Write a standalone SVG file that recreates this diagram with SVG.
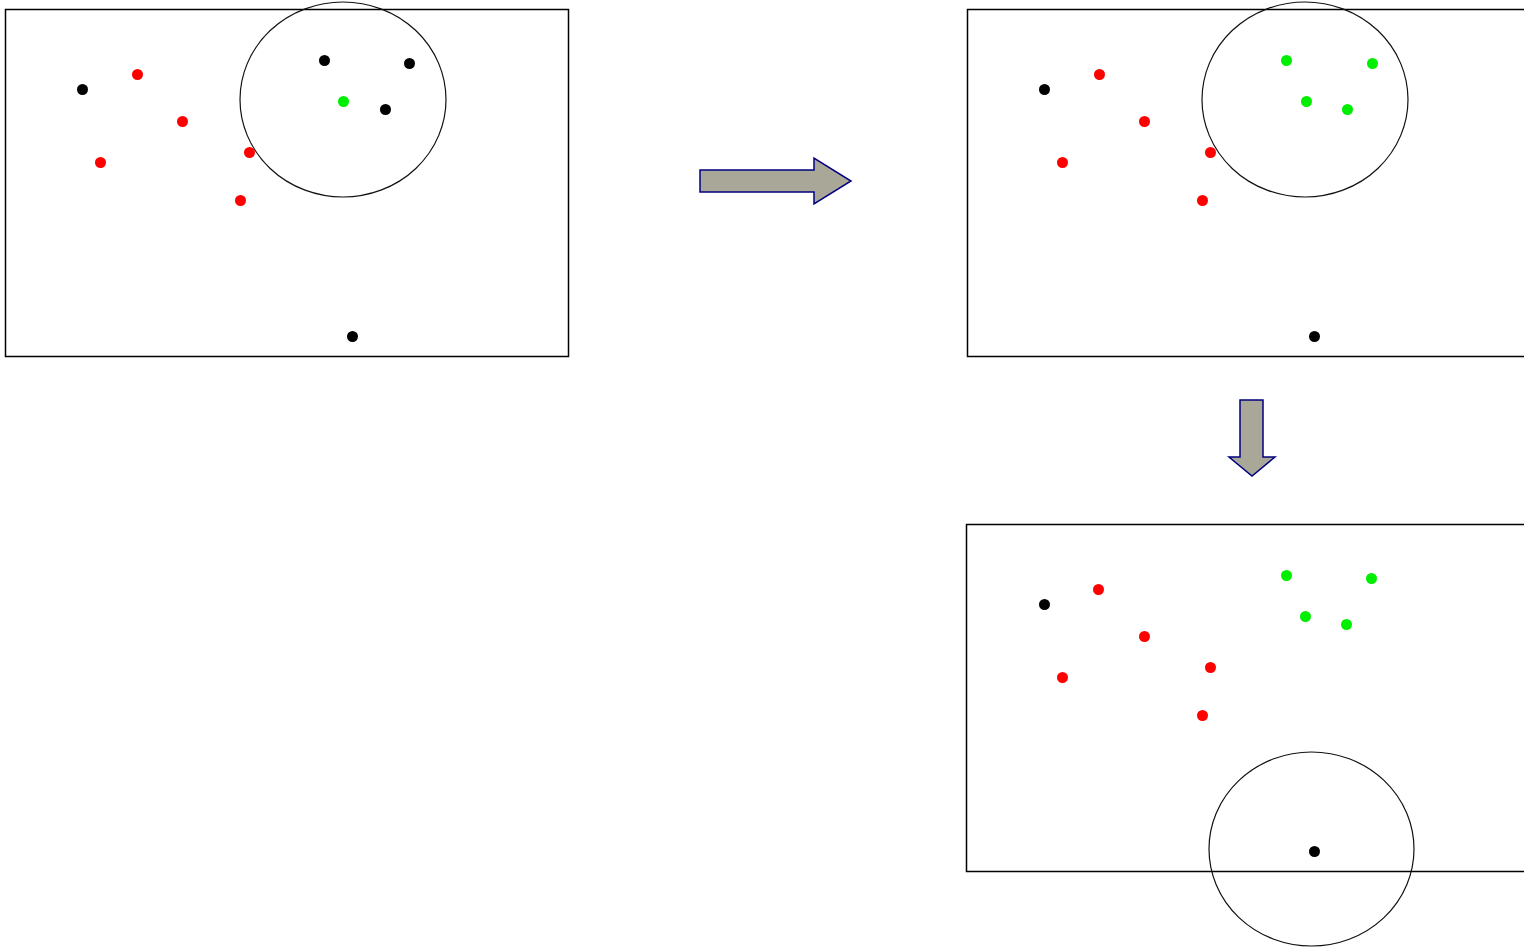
<svg xmlns="http://www.w3.org/2000/svg" width="1524" height="947" viewBox="0 0 1524 947">
<style>
.frame{fill:none;stroke:#000;stroke-width:1.5}
.ring{fill:none;stroke:#111;stroke-width:1.2}
.k{fill:#000}.r{fill:#ff0000}.g{fill:#00ee00}
circle{r:5.5}
.arrow{fill:#a8a798;stroke:#000080;stroke-width:1.5;stroke-linejoin:miter}
</style>
<rect width="1524" height="947" fill="#fff"/>
<g id="panel1">
<rect class="frame" x="5.5" y="9.5" width="563" height="347"/>
<ellipse class="ring" cx="343" cy="99.5" rx="103" ry="97.5"/>
<circle class="k" cx="82.5" cy="89.5" r="5.5"/>
<circle class="r" cx="137.5" cy="74.5" r="5.5"/>
<circle class="r" cx="182.5" cy="121.5" r="5.5"/>
<circle class="r" cx="100.5" cy="162.5" r="5.5"/>
<circle class="r" cx="249.5" cy="152.5" r="5.5"/>
<circle class="r" cx="240.5" cy="200.5" r="5.5"/>
<circle class="k" cx="324.5" cy="60.5" r="5.5"/>
<circle class="k" cx="409.5" cy="63.5" r="5.5"/>
<circle class="g" cx="343.5" cy="101.5" r="5.5"/>
<circle class="k" cx="385.5" cy="109.5" r="5.5"/>
<circle class="k" cx="352.5" cy="336.5" r="5.5"/>
</g>
<g id="panel2">
<rect class="frame" x="967.5" y="9.5" width="560" height="347"/>
<ellipse class="ring" cx="1305" cy="99.5" rx="103" ry="97.5"/>
<circle class="k" cx="1044.5" cy="89.5" r="5.5"/>
<circle class="r" cx="1099.5" cy="74.5" r="5.5"/>
<circle class="r" cx="1144.5" cy="121.5" r="5.5"/>
<circle class="r" cx="1062.5" cy="162.5" r="5.5"/>
<circle class="r" cx="1210.5" cy="152.5" r="5.5"/>
<circle class="r" cx="1202.5" cy="200.5" r="5.5"/>
<circle class="g" cx="1286.5" cy="60.5" r="5.5"/>
<circle class="g" cx="1372.5" cy="63.5" r="5.5"/>
<circle class="g" cx="1306.5" cy="101.5" r="5.5"/>
<circle class="g" cx="1347.5" cy="109.5" r="5.5"/>
<circle class="k" cx="1314.5" cy="336.5" r="5.5"/>
</g>
<g id="panel3">
<rect class="frame" x="966.5" y="524.5" width="560" height="347"/>
<ellipse class="ring" cx="1311.5" cy="849" rx="102.5" ry="97"/>
<circle class="k" cx="1044.5" cy="604.5" r="5.5"/>
<circle class="r" cx="1098.5" cy="589.5" r="5.5"/>
<circle class="r" cx="1144.5" cy="636.5" r="5.5"/>
<circle class="r" cx="1062.5" cy="677.5" r="5.5"/>
<circle class="r" cx="1210.5" cy="667.5" r="5.5"/>
<circle class="r" cx="1202.5" cy="715.5" r="5.5"/>
<circle class="g" cx="1286.5" cy="575.5" r="5.5"/>
<circle class="g" cx="1371.5" cy="578.5" r="5.5"/>
<circle class="g" cx="1305.5" cy="616.5" r="5.5"/>
<circle class="g" cx="1346.5" cy="624.5" r="5.5"/>
<circle class="k" cx="1314.5" cy="851.5" r="5.5"/>
</g>
<g id="connectors">
<polygon class="arrow" points="700,170 814,170 814,158 851,181 814,204 814,192 700,192"/>
<polygon class="arrow" points="1240,400 1263,400 1263,457 1275,457 1252,476 1229,457 1240,457"/>
</g>
</svg>
